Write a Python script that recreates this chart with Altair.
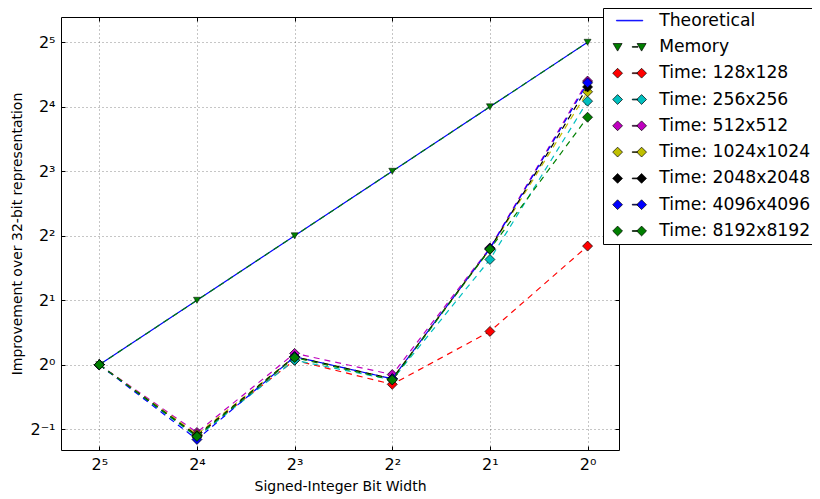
import altair as alt
import pandas as pd

bit_widths = [32, 16, 8, 4, 2, 1]
series_names = [
    "Theoretical", "Memory", "Time: 128x128", "Time: 256x256", "Time: 512x512",
    "Time: 1024x1024", "Time: 2048x2048", "Time: 4096x4096", "Time: 8192x8192",
]
theoretical = [1, 2, 4, 8, 16, 32]
memory = [1, 2, 4, 8, 16, 32]
time_128 = [1.0, 0.467, 1.05, 0.81, 1.43, 3.58]
time_256 = [1.0, 0.460, 1.05, 0.85, 3.10, 17.0]
time_512 = [1.0, 0.483, 1.13, 0.90, 3.51, 21.1]
time_1024 = [1.0, 0.473, 1.09, 0.86, 3.46, 18.8]
time_2048 = [1.0, 0.467, 1.09, 0.86, 3.48, 19.8]
time_4096 = [1.0, 0.448, 1.09, 0.86, 3.48, 20.7]
time_8192 = [1.0, 0.463, 1.08, 0.85, 3.46, 14.3]
series_values = [theoretical, memory, time_128, time_256, time_512,
                 time_1024, time_2048, time_4096, time_8192]
colors = ["#0000ff", "#007f00", "#ff0000", "#00bfbf", "#bf00bf",
          "#bfbf00", "#000000", "#0000ff", "#007f00"]

x_tick_values = [32, 16, 8, 4, 2, 1]
x_tick_labels = ["2⁵", "2⁴", "2³", "2²", "2¹", "2⁰"]
y_tick_values = [0.5, 1, 2, 4, 8, 16, 32]
y_tick_labels = ["2⁻¹", "2⁰", "2¹", "2²", "2³", "2⁴", "2⁵"]

rows = []
for name, vals in zip(series_names, series_values):
    for b, v in zip(bit_widths, vals):
        rows.append({"series": name, "bits": b, "value": v})
df = pd.DataFrame(rows)


def label_expr(values, labels):
    expr = "''"
    for v, l in reversed(list(zip(values, labels))):
        expr = f"datum.value == {v} ? '{l}' : ({expr})"
    return expr


FONT = "DejaVu Sans"

x_scale = alt.Scale(type="log", base=2, domain=[0.8, 42], reverse=True, nice=False)
y_scale = alt.Scale(type="log", base=2, domain=[0.4, 42], nice=False)

x_axis = alt.Axis(values=x_tick_values, labelExpr=label_expr(x_tick_values, x_tick_labels),
                  title="Signed-Integer Bit Width", grid=True)
y_axis = alt.Axis(values=y_tick_values, labelExpr=label_expr(y_tick_values, y_tick_labels),
                  title="Improvement over 32-bit representation", grid=True)


def tick_axis(orient, values):
    return alt.Axis(orient=orient, offset=-4, ticks=True, tickSize=4, tickWidth=1, tickColor="black",
                    labels=False, grid=False, domain=False, title=None, values=values)


x_main = alt.X("bits:Q", scale=x_scale, axis=x_axis)
y_main = alt.Y("value:Q", scale=y_scale, axis=y_axis)
x_plain = alt.X("bits:Q", scale=x_scale, axis=None)
y_plain = alt.Y("value:Q", scale=y_scale, axis=None)

empty = alt.Chart(df).transform_filter("datum.value < 0")

layers = [
    empty.mark_point().encode(x=x_main, y=y_main),
    empty.mark_point().encode(
        x=alt.X("bits:Q", scale=x_scale, axis=tick_axis("bottom", x_tick_values)),
        y=alt.Y("value:Q", scale=y_scale, axis=tick_axis("left", y_tick_values))),
    empty.mark_point().encode(
        x=alt.X("bits:Q", scale=x_scale, axis=tick_axis("top", x_tick_values)),
        y=alt.Y("value:Q", scale=y_scale, axis=tick_axis("right", y_tick_values))),
]

for name, col in zip(series_names, colors):
    base = alt.Chart(df).transform_filter(alt.datum.series == name)
    if name == "Theoretical":
        layers.append(base.mark_line(strokeWidth=1.2, color=col).encode(x=x_plain, y=y_plain))
    else:
        layers.append(base.mark_line(strokeWidth=1.2, strokeDash=[6, 5], color=col).encode(
            x=x_plain, y=y_plain))
    if name == "Memory":
        layers.append(base.mark_point(filled=True, shape="triangle-down", size=49, fill=col,
                                      stroke="black", strokeWidth=0.5, opacity=1).encode(x=x_plain, y=y_plain))
    elif name != "Theoretical":
        layers.append(base.mark_point(filled=True, shape="diamond", size=100, fill=col,
                                      stroke="black", strokeWidth=0.7, opacity=1).encode(x=x_plain, y=y_plain))


# legend symbol paths (unit = 6 px for symbolSize 144)
def diamond(cx, h):
    return f"M{cx - h:.2f},0L{cx:.2f},{-h:.2f}L{cx + h:.2f},0L{cx:.2f},{h:.2f}Z"


def tri_down(cx, w, h):
    return f"M{cx - w:.2f},{-h * 0.8:.2f}L{cx + w:.2f},{-h * 0.8:.2f}L{cx:.2f},{h:.2f}Z"


def rect(x0, x1, t):
    return f"M{x0:.2f},{-t:.2f}L{x1:.2f},{-t:.2f}L{x1:.2f},{t:.2f}L{x0:.2f},{t:.2f}Z"


line_path = rect(-2.2, 2.2, 0.06)
memory_path = tri_down(-2.0, 0.75, 0.7) + rect(0.45, 1.4, 0.07) + tri_down(2.0, 0.75, 0.7)
time_path = diamond(-2.0, 0.82) + rect(0.45, 1.3, 0.07) + diamond(2.0, 0.82)
legend_paths = [line_path, memory_path] + [time_path] * 7
legend_strokes = ["#0000ff"] + ["#000000"] * 8

legend = alt.Legend(orient="none", legendX=542, legendY=-9, title=None,
                    labelFont=FONT, labelFontSize=17.2, labelColor="black",
                    symbolSize=144, symbolStrokeWidth=0.7, symbolOpacity=1,
                    strokeColor="black", fillColor="white", padding=4,
                    symbolOffset=14, labelOffset=21, rowPadding=8.3, cornerRadius=0)

legend_layer = empty.mark_point(filled=True).encode(
    x=x_plain, y=y_plain,
    fill=alt.Fill("series:N", scale=alt.Scale(domain=series_names, range=colors), legend=legend),
    stroke=alt.Stroke("series:N", scale=alt.Scale(domain=series_names, range=legend_strokes), legend=legend),
    shape=alt.Shape("series:N", scale=alt.Scale(domain=series_names, range=legend_paths), legend=legend),
)
layers.append(legend_layer)

chart = alt.layer(*layers).resolve_axis(x="independent", y="independent").properties(
    width=558, height=433,
    autosize=alt.AutoSizeParams(type="none"),
    padding={"left": 53, "top": 9, "right": 193, "bottom": 48},
    background="white",
).configure_view(
    stroke="black", strokeWidth=1,
).configure_axis(
    labelFont=FONT, titleFont=FONT, labelFontSize=16, titleFontSize=14,
    labelColor="black", titleColor="black", titleFontWeight="normal",
    domain=False, ticks=False, labelPadding=6,
    gridColor="#000000", gridOpacity=0.45, gridDash=[1, 3], gridWidth=1,
).configure_axisX(titlePadding=7).configure_axisY(titlePadding=5)

chart.save("out.html", embed_options={"renderer": "svg", "actions": False})
